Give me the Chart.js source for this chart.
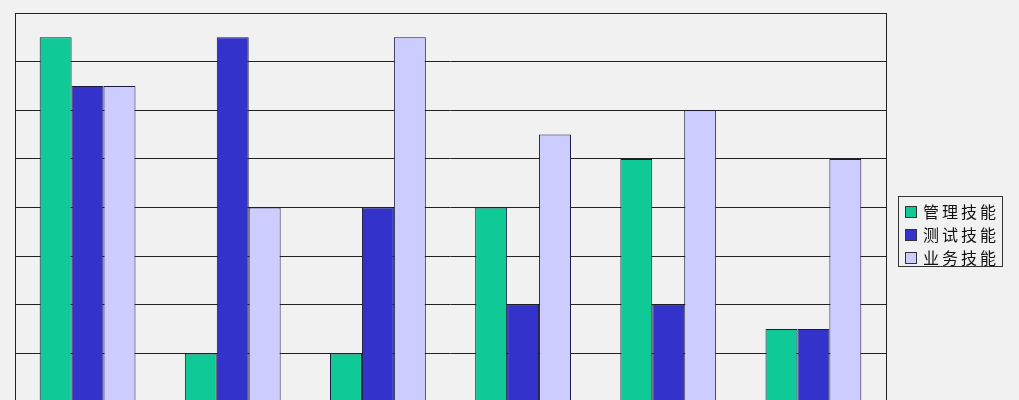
<!DOCTYPE html>
<html>
<head>
<meta charset="utf-8">
<script src="https://cdn.jsdelivr.net/npm/chart.js@4"></script>
<style>
  html, body { margin: 0; padding: 0; background: #f1f1f1; overflow: hidden; }
  #wrap { position: relative; width: 1019px; height: 440px; }
  #legend {
    position: absolute; left: 898px; top: 196px; width: 105px; height: 71px;
    border: 1px solid #333; background: #f1f1f1; box-sizing: border-box;
    font-family: "Noto Sans CJK SC", sans-serif; font-size: 16px; color: #111;
    padding-top: 3px;
  }
  .item { height: 23px; line-height: 23px; display: flex; align-items: center; }
  .sw { width: 10px; height: 10px; border: 1px solid #333; margin: 0 6px 0 6px; }
  .lbl { letter-spacing: 3px; }
</style>
</head>
<body>
<div id="wrap">
  <canvas id="skillChart" width="1019" height="440"></canvas>
  <div id="legend"></div>
</div>
<script>
// ===== data =====
const categories = ['1', '2', '3', '4', '5', '6'];
const seriesNames = ['管理技能', '测试技能', '业务技能'];
const manageSkill = [7.5, 1, 1, 4, 5, 1.5];
const testSkill = [6.5, 7.5, 4, 2, 2, 1.5];
const businessSkill = [6.5, 4, 7.5, 5.5, 6, 5];
const seriesColors = ['#0fc996', '#3333cc', '#ccccff'];

// ===== frame round the plot area =====
const frame = {
  id: 'frame',
  afterDraw(chart) {
    const a = chart.chartArea;
    const c = chart.ctx;
    c.save();
    c.strokeStyle = '#222';
    c.lineWidth = 1;
    c.strokeRect(Math.round(a.left) + 0.5, Math.round(a.top) + 0.5,
      Math.round(a.right - a.left), Math.round(a.bottom - a.top));
    c.restore();
  }
};

const ctxSkill = document.getElementById('skillChart').getContext('2d');
new Chart(ctxSkill, {
  type: 'bar',
  data: {
    labels: categories,
    datasets: [manageSkill, testSkill, businessSkill].map((d, i) => ({
      label: seriesNames[i],
      data: d,
      backgroundColor: seriesColors[i],
      borderColor: '#1a1a3a',
      borderWidth: 1,
      barPercentage: 1,
      categoryPercentage: 0.66
    }))
  },
  options: {
    responsive: false,
    animation: false,
    devicePixelRatio: 1,
    layout: { padding: { top: 13, left: 15, right: 133, bottom: 38 } },
    plugins: {
      legend: { display: false },
      tooltip: { enabled: false }
    },
    scales: {
      x: {
        display: false
      },
      y: {
        min: 0,
        max: 8,
        ticks: { display: false, stepSize: 1 },
        grid: { color: '#222', drawTicks: false },
        border: { display: false }
      }
    }
  },
  plugins: [frame]
});

// ===== legend =====
const legend = document.getElementById('legend');
seriesNames.forEach((name, i) => {
  const row = document.createElement('div');
  row.className = 'item';
  row.innerHTML = '<span class="sw" style="background:' + seriesColors[i] + '"></span><span class="lbl">' + name + '</span>';
  legend.appendChild(row);
});
</script>
</body>
</html>
